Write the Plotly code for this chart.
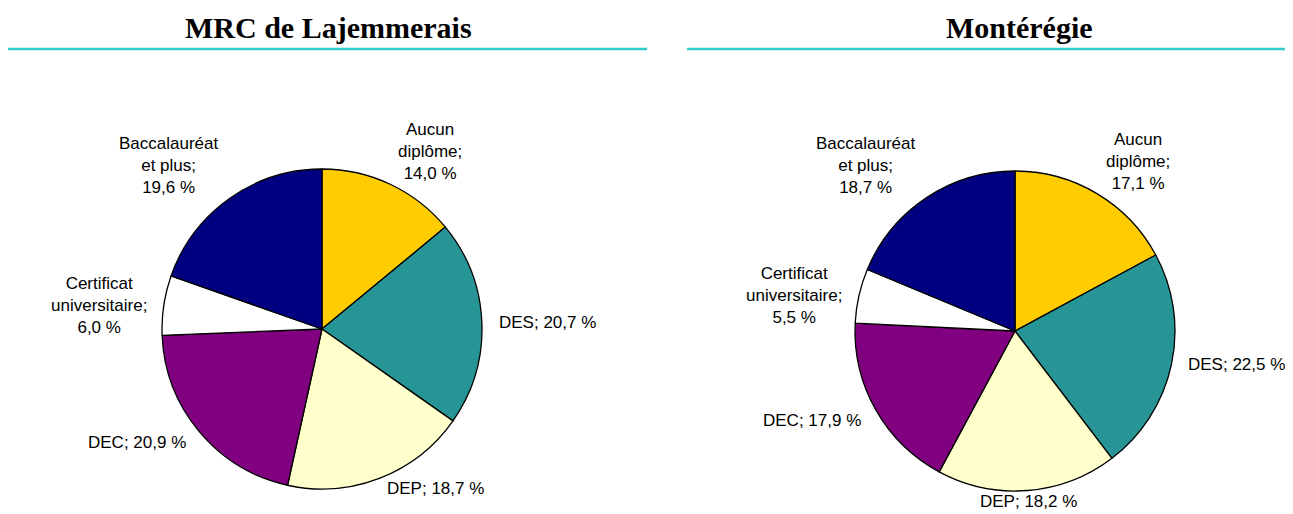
import math
import plotly.graph_objects as go

# categories, clockwise from 12 o'clock
categories = ['Aucun diplôme', 'DES', 'DEP', 'DEC', 'Certificat universitaire', 'Baccalauréat et plus']
label_text = ['Aucun<br>diplôme;', 'DES;', 'DEP;', 'DEC;', 'Certificat<br>universitaire;', 'Baccalauréat<br>et plus;']
multiline = [True, False, False, False, True, True]

lajemmerais = [14.0, 20.7, 18.7, 20.9, 6.0, 19.6]
monteregie = [17.1, 22.5, 18.2, 17.9, 5.5, 18.7]

titles = ['MRC de Lajemmerais', 'Montérégie']

colors = ['#FFCC00', '#279595', '#FFFFCC', '#800080', '#FFFFFF', '#000080']

# page body has an 8px margin, so work in window pixels and shift
W, H, OFF = 1285, 506, 8


def px(x):
    return (x - OFF) / W


def py(y):
    return 1 - (y - OFF) / H


def fmt(v):
    return f"{v:.1f}".replace('.', ',') + ' %'


fig = go.Figure()

# pie centres / radius in window pixels
pies = [(lajemmerais, 322, 329), (monteregie, 1015, 331)]
R = 160
LRX, LRY = 176, 160  # label anchor ellipse

for vals, cx, cy in pies:
    fig.add_trace(go.Pie(
        labels=categories, values=vals,
        textinfo='none', sort=False, direction='clockwise', rotation=0,
        marker=dict(colors=colors, line=dict(color='black', width=1.3)),
        domain=dict(x=[px(cx - R), px(cx + R)], y=[py(cy + R), py(cy - R)]),
        showlegend=False, hoverinfo='label+value',
    ))
    total = sum(vals)
    cum = 0
    for lab, ml, v in zip(label_text, multiline, vals):
        th = 2 * math.pi * (cum + v / 2) / total
        cum += v
        s, c = math.sin(th), math.cos(th)
        xa = 'left' if s > 0.3 else ('right' if s < -0.3 else 'center')
        ya = 'bottom' if c > 0.3 else ('top' if c < -0.3 else 'middle')
        txt = lab + ('<br>' if ml else ' ') + fmt(v)
        fig.add_annotation(text=txt, x=px(cx + LRX * s), y=py(cy - LRY * c),
                           xref='paper', yref='paper', xanchor=xa, yanchor=ya,
                           showarrow=False, align='center', borderpad=0,
                           font=dict(family='Liberation Sans, Arial', size=17, color='black'))

# titles and teal rules
for title, xc, x0, x1 in [(titles[0], 328, 7, 647), (titles[1], 1019, 687, 1293)]:
    fig.add_annotation(text='<b>' + title + '</b>', x=px(xc), y=py(27.5), xref='paper', yref='paper',
                       xanchor='center', yanchor='middle', showarrow=False, borderpad=0,
                       font=dict(family='Liberation Serif, Times New Roman', size=30, color='black'))
    fig.add_shape(type='line', xref='paper', yref='paper', x0=px(x0), x1=px(x1),
                  y0=py(49), y1=py(49), line=dict(color='#33CCCC', width=2.5))

fig.update_layout(
    width=W, height=H,
    margin=dict(l=0, r=0, t=0, b=0),
    paper_bgcolor='white', plot_bgcolor='white',
)

fig.write_html("out.html")
